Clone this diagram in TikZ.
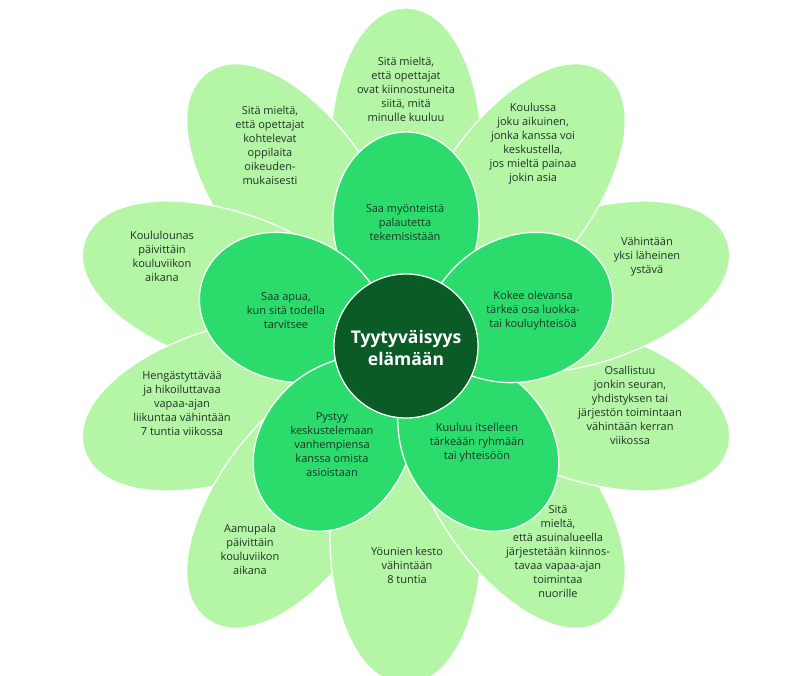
\documentclass[tikz,border=0pt]{standalone}
\usepackage{fontspec}
\setmainfont{Open Sans}
\usepackage{xcolor}
\definecolor{leafpale}{HTML}{B5F5A6}
\definecolor{leafmid}{HTML}{2BDC6D}
\definecolor{leafdark}{HTML}{0A5B26}
\definecolor{leaftext}{HTML}{1F3326}

\begin{document}
\begin{tikzpicture}[
    x=1pt, y=1pt,
    outerpetal/.style={fill=leafpale, draw=white, line width=1.3pt},
    innerpetal/.style={fill=leafmid, draw=white, line width=1.3pt},
    petaltext/.style={align=center, inner sep=0pt, text=leaftext, font=\fontsize{11}{14}\selectfont},
    centretext/.style={align=center, inner sep=0pt, text=white, font=\fontsize{17.5}{22}\selectfont\bfseries},
    outerleaf/.pic={
      \path[outerpetal] (0,0) .. controls (60,55) and (125,76) .. (190,76)
        .. controls (270,76) and (338,46) .. (338,0)
        .. controls (338,-46) and (270,-76) .. (190,-76)
        .. controls (125,-76) and (60,-55) .. (0,0) -- cycle;
    },
    innerleaf/.pic={
      \path[innerpetal] (0,0) .. controls (40,40) and (70,73) .. (126,73)
        .. controls (175,73) and (214,41) .. (214,0)
        .. controls (214,-41) and (175,-73) .. (126,-73)
        .. controls (70,-73) and (40,-40) .. (0,0) -- cycle;
    }
  ]
    \useasboundingbox (-406,-329) rectangle (402,346);

    % outer ring
    \foreach \ang in {90,126,162,198,234,270,306,342,18,54}
      \pic[rotate=\ang] {outerleaf};

    % inner ring
    \foreach \ang in {90,162,234,306,18}
      \pic[rotate=\ang] {innerleaf};

    \node[circle, minimum size=144pt, fill=leafdark, draw=white, line width=1.3pt] (core) at (0,0) {};
    \node[centretext] (centre) at (0,-2) {Tyytyväisyys\\elämään};

    % outer texts
    \node[petaltext] (kiinnostus) at (0,257) {Sitä mieltä,\\että opettajat\\ovat kiinnostuneita\\siitä, mitä\\minulle kuuluu};
    \node[petaltext] (oikeudenmukaisuus) at (-136,201) {Sitä mieltä,\\että opettajat\\kohtelevat\\oppilaita\\oikeuden-\\mukaisesti};
    \node[petaltext] (aikuinen) at (127,202) {Koulussa\\joku aikuinen,\\jonka kanssa voi\\keskustella,\\jos mieltä painaa\\jokin asia};
    \node[petaltext] (lounas) at (-244,90) {Koululounas\\päivittäin\\kouluviikon\\aikana};
    \node[petaltext] (ystava) at (241,89) {Vähintään\\yksi läheinen\\ystävä};
    \node[petaltext] (liikunta) at (-224,-58) {Hengästyttävää\\ja hikoiluttavaa\\vapaa-ajan\\liikuntaa vähintään\\7 tuntia viikossa};
    \node[petaltext] (harrastus) at (224,-59) {Osallistuu\\jonkin seuran,\\yhdistyksen tai\\järjestön toimintaan\\vähintään kerran\\viikossa};
    \node[petaltext] (aamupala) at (-156,-203) {Aamupala\\päivittäin\\kouluviikon\\aikana};
    \node[petaltext] (uni) at (1,-219) {Yöunien kesto\\vähintään\\8 tuntia};
    \node[petaltext] (asuinalue) at (152,-206) {Sitä\\mieltä,\\että asuinalueella\\järjestetään kiinnos-\\tavaa vapaa-ajan\\toimintaa\\nuorille};

    % inner texts
    \node[petaltext] (palaute) at (-1,123) {Saa myönteistä\\palautetta\\tekemisistään};
    \node[petaltext] (apu) at (-120,35) {Saa apua,\\kun sitä todella\\tarvitsee};
    \node[petaltext] (yhteiso) at (127,35) {Kokee olevansa\\tärkeä osa luokka-\\tai kouluyhteisöä};
    \node[petaltext] (vanhemmat) at (-74,-99) {Pystyy\\keskustelemaan\\vanhempiensa\\kanssa omista\\asioistaan};
    \node[petaltext] (ryhma) at (71,-97) {Kuuluu itselleen\\tärkeään ryhmään\\tai yhteisöön};
  \end{tikzpicture}
\end{document}
